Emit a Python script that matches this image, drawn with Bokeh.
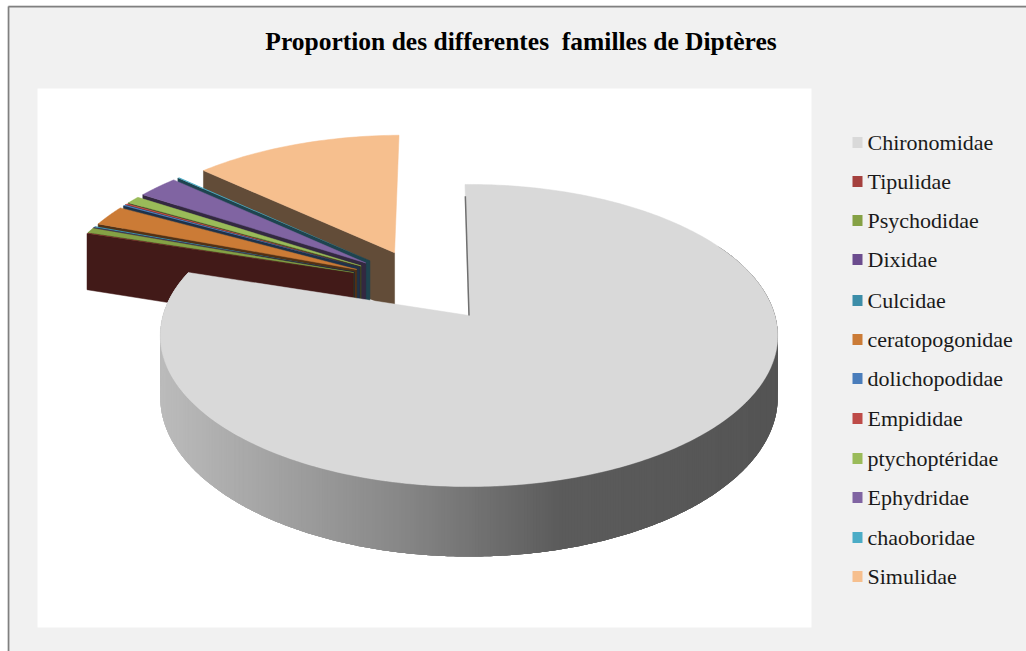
import numpy as np
from bokeh.embed import file_html
from bokeh.resources import INLINE
from bokeh.plotting import figure
from bokeh.models import Range1d
from bokeh.core.properties import value

# ---- data -------------------------------------------------------------
families = ["Chironomidae", "Tipulidae", "Psychodidae", "Dixidae", "Culcidae",
            "ceratopogonidae", "dolichopodidae", "Empididae", "ptychoptéridae",
            "Ephydridae", "chaoboridae", "Simulidae"]
shares = [80.1, 0.05, 0.55, 0.05, 0.15, 2.28, 0.15, 0.15, 0.85, 2.55, 0.12, 13.0]
colors = ["#d9d9d9", "#a5413e", "#85a145", "#6b4c8e", "#3c8da8", "#cb7b36",
          "#4a7dbb", "#be4b48", "#9abb59", "#8064a2", "#4bacc6", "#f6bf8e"]
legend_rows = [142, 181, 220, 259, 300, 339, 378, 418, 458, 497, 537, 576]
title = "Proportion des differentes\u00a0\u00a0familles de Diptères"

# ---- projection of the tilted pie --------------------------------------
AX, AY = 468.5, 315.0      # pixel position of the main slice's apex
A, B, K = 306.0, 148.4, 0.1325
DEPTH = 60.7
START = -0.85              # degrees
EXPLODE = 0.25
CENTER = (-0.155, 0.22)    # pie centre, relative to the main slice's apex


def project(u, v, down=False):
    w = 1 + K * v
    x = AX + A * u / w
    y = AY - B * v / w
    if down:
        y = y + DEPTH / w
    return x, y


def shade(hex_color, f):
    r, g, b = [int(hex_color[i:i + 2], 16) for i in (1, 3, 5)]
    return "#%02x%02x%02x" % (int(r * f), int(g * f), int(b * f))


total = sum(shares)
edges = START + np.cumsum([0] + shares) * 360.0 / total

p = figure(width=1019, height=646, margin=(5, 0, 0, 7),
           x_range=Range1d(7, 1026), y_range=Range1d(651, 5),
           x_axis_location=None, y_axis_location=None,
           toolbar_location=None, output_backend="svg",
           background_fill_color="#f1f1f1", border_fill_color="#f1f1f1",
           min_border=0, outline_line_color=None, tools="")
p.grid.visible = False

# frame and white panel
p.line([7.9, 7.9], [651, 6], line_color="#808080", line_width=2)
p.line([7.9, 1026], [6, 6], line_color="#808080", line_width=2)
p.quad(left=[37], right=[811], top=[88], bottom=[627],
       fill_color="white", line_color=None)

# exploded slices, back to front
for i in range(len(shares) - 1, 0, -1):
    t0, t1 = np.radians(edges[i]), np.radians(edges[i + 1])
    mid = (t0 + t1) / 2
    cu = CENTER[0] + EXPLODE * np.sin(mid)
    cv = CENTER[1] + EXPLODE * np.cos(mid)
    th = np.linspace(t0, t1, 40)
    us = cu + np.sin(th)
    vs = cv + np.cos(th)
    tx, ty = project(us, vs)
    bx, by = project(us, vs, True)
    ax0, ay0 = project(cu, cv)
    ax1, ay1 = project(cu, cv, True)
    dark = shade(colors[i], 0.4)
    # cut face (lower edge of the slice)
    p.patch([ax0, tx[0], bx[0], ax1], [ay0, ty[0], by[0], ay1],
            fill_color=dark, line_color=dark, line_width=0.5)
    # top
    edge = colors[i] if shares[i] > 0.3 else None
    p.patch([ax0] + list(tx), [ay0] + list(ty),
            fill_color=colors[i], line_color=edge, line_width=0.5)

# main slice: shaded rim as overlapping narrow bands
ramp_x = [160, 400, 560, 780]
ramp_g = [188, 136, 92, 85]
bands = np.radians(np.arange(60, edges[1], 0.5))
for a in bands:
    b = min(a + np.radians(2.0), np.radians(edges[1]))
    th = np.linspace(a, b, 5)
    tx, ty = project(np.sin(th), np.cos(th))
    bx, by = project(np.sin(th), np.cos(th), True)
    g = int(np.interp(tx[0], ramp_x, ramp_g))
    c = "#%02x%02x%02x" % (g, g, g)
    p.patch(list(tx) + list(bx[::-1]), list(ty) + list(by[::-1]),
            fill_color=c, line_color=None)

th = np.radians(np.linspace(edges[0], edges[1], 360))
tx, ty = project(np.sin(th), np.cos(th))
p.patch([AX] + list(tx), [AY] + list(ty), fill_color=colors[0], line_color=colors[0], line_width=0.5)
lx, ly = project(0.9 * np.sin(np.radians(START)), 0.9 * np.cos(np.radians(START)))
p.line([AX, lx], [AY, ly], line_color="#707070", line_width=1.5)

# title
p.text(x=[520.5], y=[41], text=[title], text_font=value("Liberation Serif"),
       text_font_style="bold", text_font_size="25.5px", text_color="#000000",
       text_align="center", text_baseline="middle")

# legend
p.rect(x=[857] * len(families), y=legend_rows, width=10, height=11,
       fill_color=colors, line_color=None)
p.text(x=[867] * len(families), y=legend_rows, text=families,
       text_font=value("Liberation Serif"), text_font_size="22px",
       text_color="#1a1a1a", text_align="left", text_baseline="middle")

open("out.html", "w").write(file_html(p, INLINE))
